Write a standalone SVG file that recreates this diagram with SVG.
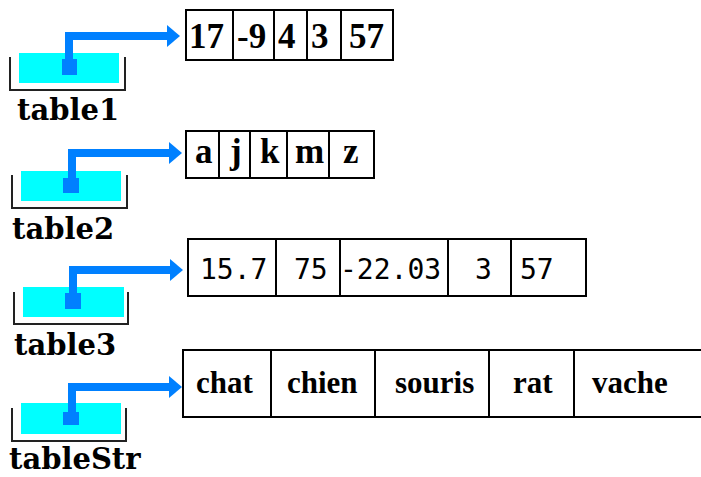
<svg xmlns="http://www.w3.org/2000/svg" width="701" height="477" viewBox="0 0 701 477">
<style>
.bg{fill:#fff}
.var{fill:#00ffff}
.brk{fill:none;stroke:#222;stroke-width:2}
.ptr{fill:#0080ff}
.cell{fill:#fff;stroke:#000;stroke-width:2}
.lbl{font-family:"DejaVu Serif",serif;font-weight:bold;font-size:29px;fill:#000}
.v1{font-family:"Liberation Serif",serif;font-weight:bold;font-size:35px;fill:#000}
.v3{font-family:"DejaVu Sans Mono",monospace;font-size:28px;fill:#000}
.v4{font-family:"Liberation Serif",serif;font-weight:bold;font-size:31px;fill:#000}
.con{fill:none;stroke:#0080ff;stroke-width:8;stroke-linejoin:miter;stroke-linecap:butt}
</style>
<defs>
<marker id="ah" markerUnits="userSpaceOnUse" markerWidth="13" markerHeight="22" refX="0" refY="11" orient="auto" viewBox="0 0 13 22">
<path d="M0,0 L13,11 L0,22 Z" fill="#0080ff"/>
</marker>
</defs>
<rect class="bg" width="701" height="477"/>

<g id="table1">
<rect class="var" x="19" y="53" width="100" height="30"/>
<path class="brk" d="M10,57 V90 H125 V57"/>
<rect class="ptr" x="62" y="59" width="15" height="16"/>
<text class="lbl" x="17" y="120">table1</text>
</g>
<g id="array1">
<rect class="cell" x="186" y="10" width="207" height="50"/>
<path class="cell" d="M233,10 V60 M274,10 V60 M307,10 V60 M341,10 V60"/>
<text class="v1" x="189" y="48">17</text>
<text class="v1" x="237" y="48">-9</text>
<text class="v1" x="278" y="48">4</text>
<text class="v1" x="311" y="48">3</text>
<text class="v1" x="349" y="48">57</text>
</g>

<g id="table2">
<rect class="var" x="21" y="171" width="100" height="30"/>
<path class="brk" d="M12,175 V208 H127 V175"/>
<rect class="ptr" x="63" y="178" width="16" height="15"/>
<text class="lbl" x="12" y="239">table2</text>
</g>
<g id="array2">
<rect class="cell" x="186" y="131" width="188" height="47"/>
<path class="cell" d="M219,131 V178 M250,131 V178 M287,131 V178 M329,131 V178"/>
<text class="v1" x="195" y="163">a</text>
<text class="v1" x="230" y="163">j</text>
<text class="v1" x="260" y="163">k</text>
<text class="v1" x="295" y="163">m</text>
<text class="v1" x="343" y="163">z</text>
</g>

<g id="table3">
<rect class="var" x="23" y="287" width="101" height="30"/>
<path class="brk" d="M14,292 V324 H128 V292"/>
<rect class="ptr" x="65" y="293" width="16" height="16"/>
<text class="lbl" x="14" y="355">table3</text>
</g>
<g id="array3">
<rect class="cell" x="188" y="239" width="398" height="57"/>
<path class="cell" d="M276,239 V296 M340,239 V296 M448,239 V296 M511,239 V296"/>
<text class="v3" x="200" y="279">15.7</text>
<text class="v3" x="294" y="279">75</text>
<text class="v3" x="340" y="279">-22.03</text>
<text class="v3" x="475" y="279">3</text>
<text class="v3" x="520" y="279">57</text>
</g>

<g id="tableStr">
<rect class="var" x="21" y="403" width="100" height="31"/>
<path class="brk" d="M12,408 V441 H126 V408"/>
<rect class="ptr" x="63" y="412" width="16" height="13"/>
<text class="lbl" x="9" y="469">tableStr</text>
</g>
<g id="arrayStr">
<path class="cell" d="M710,350 H183 V417 H710"/>
<path class="cell" d="M271,350 V417 M375,350 V417 M489,350 V417 M574,350 V417"/>
<text class="v4" x="196" y="393">chat</text>
<text class="v4" x="287" y="393">chien</text>
<text class="v4" x="395" y="393">souris</text>
<text class="v4" x="513" y="393">rat</text>
<text class="v4" x="592" y="393">vache</text>
</g>

<g id="connectors">
<path class="con" d="M69,62 V36 H167" marker-end="url(#ah)"/>
<path class="con" d="M72,181 V153 H169" marker-end="url(#ah)"/>
<path class="con" d="M73,296 V270 H170" marker-end="url(#ah)"/>
<path class="con" d="M72,415 V387 H169" marker-end="url(#ah)"/>
</g>
</svg>
